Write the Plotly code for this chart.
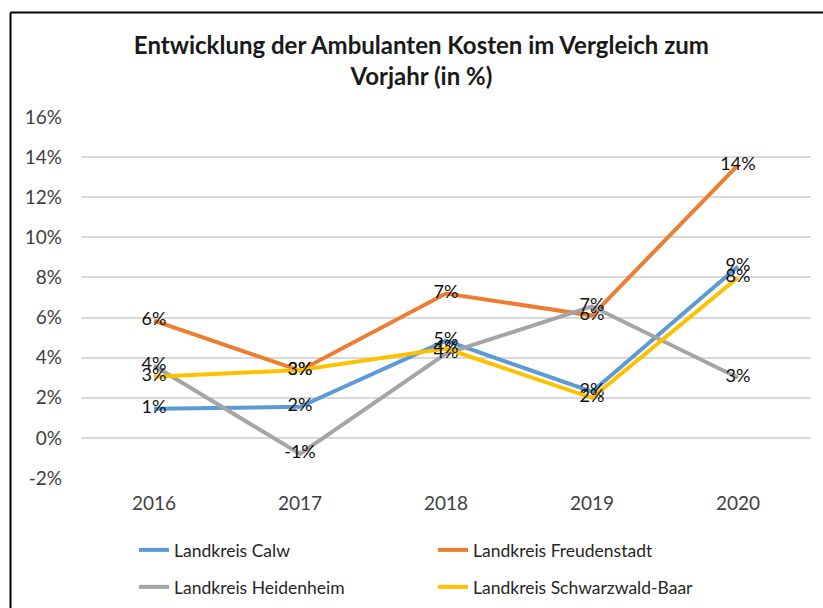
import plotly.graph_objects as go

years = ["2016", "2017", "2018", "2019", "2020"]
calw = [0.0145, 0.0155, 0.0485, 0.023, 0.0855]
freudenstadt = [0.0585, 0.0335, 0.072, 0.061, 0.136]
heidenheim = [0.036, -0.008, 0.042, 0.0656, 0.030]
schwarzwald = [0.0305, 0.0338, 0.0445, 0.020, 0.080]
y_tick_vals = [-0.02, 0.0, 0.02, 0.04, 0.06, 0.08, 0.10, 0.12, 0.14, 0.16]
y_tick_text = ["-2%", "0%", "2%", "4%", "6%", "8%", "10%", "12%", "14%", "16%"]

series = [
    ("Landkreis Calw", calw, "#5B9BD5", "legend"),
    ("Landkreis Freudenstadt", freudenstadt, "#ED7D31", "legend"),
    ("Landkreis Heidenheim", heidenheim, "#A5A5A5", "legend2"),
    ("Landkreis Schwarzwald-Baar", schwarzwald, "#FFC000", "legend2"),
]

FONT = "Lato, 'Open Sans', sans-serif"

def pct(v):
    return "%d%%" % round(v * 100)

fig = go.Figure()
for name, vals, color, lg in series:
    fig.add_trace(go.Scatter(
        x=years, y=vals, name=name, mode="lines+text",
        line=dict(color=color, width=4),
        text=[pct(v) for v in vals], textposition="middle center",
        textfont=dict(family=FONT, size=18, color="#111111"),
        legend=lg, cliponaxis=False,
    ))

W, H = 823, 608
L, R, T, B = 81, 12, 117, 130
pw, ph = W - L - R, H - T - B

def px_x(x):
    return (x - L) / pw

def px_y(y):
    return (H - B - y) / ph

fig.update_layout(
    width=W, height=H,
    margin=dict(l=L, r=R, t=T, b=B, autoexpand=False),
    paper_bgcolor="white", plot_bgcolor="white",
    font=dict(family=FONT, size=19, color="#404040"),
    title=dict(
        text="Entwicklung der Ambulanten Kosten im Vergleich zum<br>Vorjahr (in %)",
        x=0.512, xanchor="center", xref="container",
        y=1 - 54 / H, yanchor="middle", yref="container",
        font=dict(family=FONT, size=24, color="#1a1a1a", weight="bold"),
    ),
    xaxis=dict(
        type="category", range=[-0.5, 4.5], showgrid=False, zeroline=False,
        showline=False, ticks="", ticklabelstandoff=12,
        tickfont=dict(size=19, color="#404040"),
    ),
    yaxis=dict(
        range=[-0.02, 0.16], tickvals=y_tick_vals, ticktext=y_tick_text,
        showgrid=True, gridcolor="#D9D9D9", gridwidth=1.5,
        zeroline=False, showline=False, ticks="", ticklabelstandoff=18,
        tickfont=dict(size=19, color="#404040"),
    ),
    legend=dict(
        orientation="h", x=px_x(134), xanchor="left", y=px_y(550), yanchor="middle",
        entrywidth=254, font=dict(family=FONT, size=17.5, color="#262626"),
        bgcolor="rgba(0,0,0,0)", itemclick=False,
    ),
    legend2=dict(
        orientation="h", x=px_x(134), xanchor="left", y=px_y(587), yanchor="middle",
        entrywidth=254, font=dict(family=FONT, size=17.5, color="#262626"),
        bgcolor="rgba(0,0,0,0)", itemclick=False,
    ),
    showlegend=True,
    shapes=[
        dict(type="line", xref="paper", yref="paper",
             x0=px_x(10.5), x1=px_x(830), y0=px_y(12.5), y1=px_y(12.5),
             line=dict(color="black", width=2)),
        dict(type="line", xref="paper", yref="paper",
             x0=px_x(10.5), x1=px_x(10.5), y0=px_y(12.5), y1=px_y(620),
             line=dict(color="black", width=2)),
    ],
)

fig.write_html("out.html", config={"displayModeBar": False},
               post_script="document.body.style.margin='0';")
